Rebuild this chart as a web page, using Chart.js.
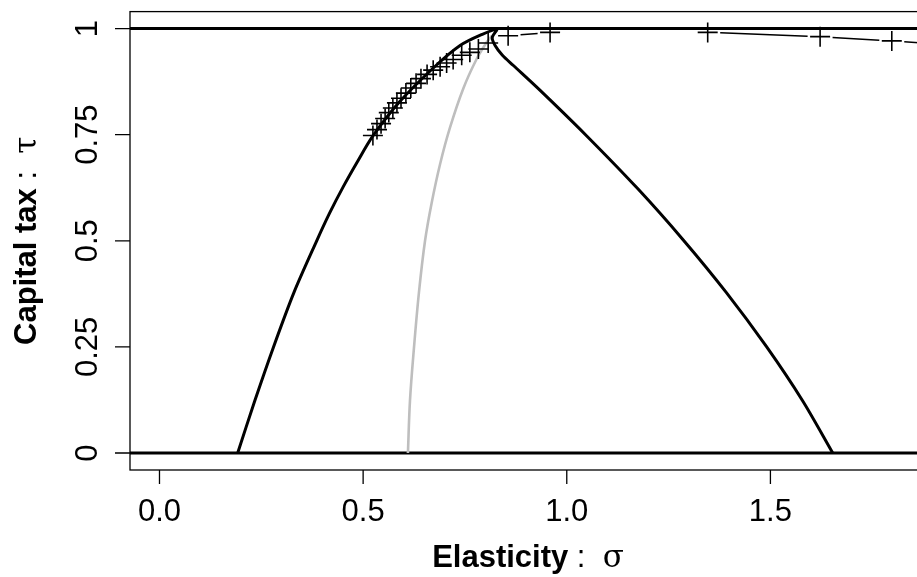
<!DOCTYPE html>
<html>
<head>
<meta charset="utf-8">
<script src="https://cdn.jsdelivr.net/npm/chart.js@4.4.1/dist/chart.umd.min.js"></script>
<style>
  html, body { margin: 0; padding: 0; background: #fff; overflow: hidden; }
  #wrap { width: 917px; height: 577px; overflow: hidden; }
</style>
</head>
<body>
<div id="wrap"><canvas id="c" width="940" height="577"></canvas></div>
<script>
// axis ticks
const xTicks = [0, 0.5, 1, 1.5]
const xTickLabels = ['0.0', '0.5', '1.0', '1.5']
const yTicks = [0, 0.25, 0.5, 0.75, 1]
const yTickLabels = ['0', '0.25', '0.5', '0.75', '1']
const hLevels = [0, 1]

// black frontier (left branch up to the top, then back down on the right)
const blackSigma = [0.192, 0.234, 0.280, 0.330, 0.386, 0.417, 0.451, 0.487, 0.524, 0.590, 0.671, 0.738, 0.794, 0.828,
  0.817, 0.824, 0.842, 0.869, 0.934, 1.046, 1.174, 1.286, 1.391, 1.490, 1.579, 1.653]
const blackTau = [0, 0.123, 0.25, 0.378, 0.5, 0.564, 0.627, 0.688, 0.747, 0.828, 0.906, 0.960, 0.987, 0.998,
  0.979, 0.960, 0.937, 0.913, 0.855, 0.750, 0.623, 0.502, 0.379, 0.251, 0.123, 0]

// grey curve
const greySigma = [0.610, 0.615, 0.625, 0.637, 0.652, 0.668, 0.689, 0.713, 0.746, 0.779, 0.803, 0.816]
const greyTau = [0, 0.123, 0.25, 0.378, 0.5, 0.588, 0.681, 0.766, 0.859, 0.929, 0.967, 0.983]

// optimal tax points (plus markers), null = break in the line
const markSigma = [0.524, 0.534, 0.544, 0.554, 0.563, 0.573, 0.583, 0.593, 0.605, 0.617, 0.630, 0.642,
  0.657, 0.672, 0.689, 0.705, 0.721, 0.742, 0.762, 0.783, 0.807, 0.856, 0.959, 1.15, 1.346, 1.622, 1.798, 1.94]
const markTau = [0.748, 0.762, 0.776, 0.788, 0.802, 0.813, 0.825, 0.836, 0.848, 0.860, 0.871, 0.882,
  0.892, 0.902, 0.910, 0.919, 0.927, 0.937, 0.944, 0.952, 0.966, 0.983, 0.991, null, 0.991, 0.981, 0.971, 0.962]

const xMin = -0.0724, xMax = 1.882
const yMin = -0.04, yMax = 1.04

const zip = (xs, ys) => xs.map((x, i) => ({ x, y: ys[i] }))

const SANS = '"Liberation Sans", Arial, Helvetica, sans-serif'
const SERIF = '"DejaVu Serif", "Liberation Serif", serif'
const FS = 31

function drawParts(ctx, parts) {
  let total = 0
  const widths = parts.map(p => { ctx.font = p.font; const w = ctx.measureText(p.text).width; total += w; return w })
  let x = -total / 2
  parts.forEach((p, i) => { ctx.font = p.font; ctx.fillText(p.text, x, 0); x += widths[i] })
}

const rFrame = {
  id: 'rFrame',
  afterDatasetsDraw(chart) {
    // type = "b" : segments between points, with a gap around each point
    const { ctx, chartArea: a } = chart
    const gap = 12.5
    chart.data.datasets.forEach((ds, di) => {
      if (!ds.typeB) return
      const pts = chart.getDatasetMeta(di).data
      ctx.save()
      ctx.beginPath()
      ctx.rect(a.left, a.top, a.right - a.left, a.bottom - a.top)
      ctx.clip()
      ctx.strokeStyle = '#000'
      ctx.lineWidth = 1.5
      ctx.beginPath()
      for (let i = 0; i < pts.length - 1; i++) {
        const p = pts[i], q = pts[i + 1]
        if (p.skip || q.skip) continue
        const dx = q.x - p.x, dy = q.y - p.y
        const d = Math.hypot(dx, dy)
        if (d <= 2 * gap) continue
        const ux = dx / d, uy = dy / d
        ctx.moveTo(p.x + ux * gap, p.y + uy * gap)
        ctx.lineTo(q.x - ux * gap, q.y - uy * gap)
      }
      ctx.stroke()
      ctx.restore()
    })
  },
  afterDraw(chart) {
    const { ctx, chartArea: a, scales } = chart
    const xs = scales.x, ys = scales.y
    ctx.save()
    ctx.strokeStyle = '#000'
    ctx.fillStyle = '#000'
    // box
    ctx.lineWidth = 1.3
    ctx.strokeRect(a.left, a.top, a.right - a.left, a.bottom - a.top)
    // ticks
    ctx.beginPath()
    xTicks.forEach(v => {
      const px = xs.getPixelForValue(v)
      ctx.moveTo(px, a.bottom)
      ctx.lineTo(px, a.bottom + 14)
    })
    yTicks.forEach(v => {
      const py = ys.getPixelForValue(v)
      ctx.moveTo(a.left, py)
      ctx.lineTo(a.left - 15, py)
    })
    ctx.stroke()
    // tick labels
    ctx.font = FS + 'px ' + SANS
    ctx.textAlign = 'center'
    ctx.textBaseline = 'alphabetic'
    xTicks.forEach((v, i) => {
      ctx.fillText(xTickLabels[i], xs.getPixelForValue(v), 520.5)
    })
    yTicks.forEach((v, i) => {
      ctx.save()
      ctx.translate(96.7, ys.getPixelForValue(v))
      ctx.rotate(-Math.PI / 2)
      ctx.fillText(yTickLabels[i], 0, 0)
      ctx.restore()
    })
    // axis titles
    ctx.textAlign = 'left'
    ctx.save()
    ctx.translate((a.left + a.right) / 2, 566.7)
    drawParts(ctx, [
      { text: 'Elasticity', font: 'bold ' + FS + 'px ' + SANS },
      { text: ' :  ', font: FS + 'px ' + SANS },
      { text: 'σ', font: FS + 'px ' + SERIF },
    ])
    ctx.restore()
    ctx.save()
    ctx.translate(36, (a.top + a.bottom) / 2)
    ctx.rotate(-Math.PI / 2)
    drawParts(ctx, [
      { text: 'Capital tax', font: 'bold ' + FS + 'px ' + SANS },
      { text: ' :  ', font: FS + 'px ' + SANS },
      { text: 'τ', font: FS + 'px ' + SERIF },
    ])
    ctx.restore()
    ctx.restore()
  }
}

const datasets = [
  {
    data: zip(markSigma, markTau),
    showLine: false,
    typeB: true,
    pointStyle: 'cross',
    pointRadius: 10,
    pointBorderWidth: 1.6,
    pointBorderColor: '#000',
    order: 0,
  },
  {
    data: zip(blackSigma, blackTau),
    showLine: true,
    borderColor: '#000',
    borderWidth: 3,
    tension: 0.3,
    pointRadius: 0,
    order: 1,
  },
  {
    data: zip(greySigma, greyTau),
    showLine: true,
    borderColor: '#bebebe',
    borderWidth: 2.6,
    tension: 0.35,
    pointRadius: 0,
    order: 2,
  },
  ...hLevels.map(h => ({
    data: [{ x: xMin, y: h }, { x: xMax, y: h }],
    showLine: true,
    borderColor: '#000',
    borderWidth: 3,
    pointRadius: 0,
    order: 3,
  })),
]

new Chart(document.getElementById('c'), {
  type: 'scatter',
  data: { datasets },
  options: {
    responsive: false,
    animation: false,
    events: [],
    layout: { padding: { left: 130, top: 5, right: 14, bottom: 107 } },
    plugins: { legend: { display: false }, tooltip: { enabled: false } },
    scales: {
      x: { type: 'linear', min: xMin, max: xMax, display: false },
      y: { type: 'linear', min: yMin, max: yMax, display: false },
    },
  },
  plugins: [rFrame],
})
</script>
</body>
</html>
